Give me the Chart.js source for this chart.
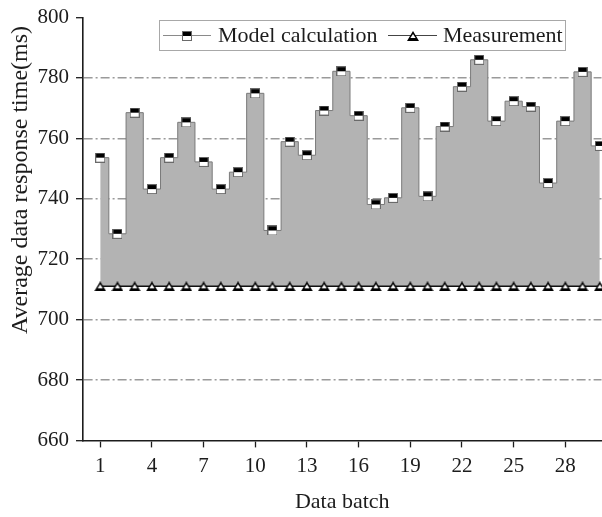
<!DOCTYPE html>
<html><head><meta charset="utf-8">
<script src="https://cdn.jsdelivr.net/npm/chart.js@4/dist/chart.umd.min.js"></script>
<style>html,body{margin:0;padding:0;background:#fff;overflow:hidden}#wrap{width:602px;height:517px;position:relative;overflow:hidden}</style>
</head><body><div id="wrap"><canvas id="c" width="608" height="517"></canvas></div>
<script>
const batches = [1,2,3,4,5,6,7,8,9,10,11,12,13,14,15,16,17,18,19,20,21,22,23,24,25,26,27,28,29,30];
const modelCalc = [753.6,728.4,768.5,743.2,753.6,765.3,752.2,743.2,748.8,774.9,729.5,758.9,754.4,769.2,782.2,767.5,738.1,740.3,770.1,740.8,763.9,777.1,786.0,765.7,772.3,770.5,745.2,765.7,782.0,757.5];
const measurement = [711,711,711,711,711,711,711,711,711,711,711,711,711,711,711,711,711,711,711,711,711,711,711,711,711,711,711,711,711,711];
const xTicks = [1,4,7,10,13,16,19,22,25,28];
const yTicks = [660,680,700,720,740,760,780,800];
const seriesNames = ['Model calculation','Measurement'];
const xTitle = 'Data batch';
const yTitle = 'Average data response time(ms)';

const FONT = '"Liberation Serif", "Times New Roman", serif';
const INK = '#1c1c1c';

function makeSquare(){
  const c=document.createElement('canvas'); c.width=10; c.height=10;
  const g=c.getContext('2d');
  g.fillStyle='#6a6a6a'; g.fillRect(0,0,10,10);
  g.fillStyle='#000'; g.fillRect(1,1,8,4);
  g.fillStyle='#fff'; g.fillRect(1,5,8,4);
  return c;
}
function makeTri(){
  const c=document.createElement('canvas'); c.width=12; c.height=10;
  const g=c.getContext('2d');
  g.fillStyle='#000';
  g.beginPath(); g.moveTo(6,0); g.lineTo(12,10); g.lineTo(0,10); g.closePath(); g.fill();
  g.fillStyle='#fff';
  g.beginPath(); g.moveTo(6,3); g.lineTo(8.6,7); g.lineTo(3.4,7); g.closePath(); g.fill();
  return c;
}
const sqImg = makeSquare();
const triImg = makeTri();

const overlay = {
  id:'overlay',
  afterDraw(chart){
    const ctx = chart.ctx;
    ctx.save();
    ctx.fillStyle = INK;
    ctx.font = '24px ' + FONT;
    ctx.textAlign = 'center'; ctx.textBaseline = 'middle';
    ctx.translate(21, 180); ctx.rotate(-Math.PI/2);
    ctx.fillText(yTitle, 0, 0);
    ctx.restore();
    ctx.save();
    ctx.fillStyle = '#fff';
    ctx.fillRect(159.5, 20.5, 406, 30);
    ctx.strokeStyle = '#a8a8a8'; ctx.lineWidth = 1;
    ctx.strokeRect(159.5, 20.5, 406, 30);
    const items = [
      {x0:163, x1:211, img:sqImg, tx:218, col:'#8a8a8a'},
      {x0:388, x1:437, img:triImg, tx:443, col:'#444'}
    ];
    items.forEach((it,i)=>{
      ctx.strokeStyle = it.col; ctx.lineWidth = 1;
      ctx.beginPath(); ctx.moveTo(it.x0, 35.5); ctx.lineTo(it.x1, 35.5); ctx.stroke();
      const cx = (it.x0+it.x1)/2;
      ctx.drawImage(it.img, Math.round(cx - it.img.width/2), Math.round(35.5 - it.img.height/2));
      ctx.fillStyle = INK;
      ctx.font = '22px ' + FONT;
      ctx.textAlign = 'left'; ctx.textBaseline = 'middle';
      ctx.fillText(seriesNames[i], it.tx, 36);
    });
    ctx.restore();
  }
};

new Chart(document.getElementById('c'), {
  type:'line',
  data:{
    datasets:[
      {
        label: seriesNames[0],
        data: batches.map((b,i)=>({x:b, y:modelCalc[i]})),
        stepped:'middle',
        borderColor:'#7a7a7a', borderWidth:1,
        backgroundColor:'#b3b3b3',
        fill:1,
        pointStyle: sqImg, pointRadius:5,
        order:1, clip:false
      },
      {
        label: seriesNames[1],
        data: batches.map((b,i)=>({x:b, y:measurement[i]})),
        borderColor:'#111', borderWidth:1.5,
        fill:false,
        pointStyle: triImg, pointRadius:5,
        order:0, clip:false
      }
    ]
  },
  options:{
    responsive:false, animation:false, events:[],
    layout:{padding:{top:16, right:0, bottom:2, left:0}},
    plugins:{legend:{display:false}, tooltip:{enabled:false}},
    scales:{
      x:{
        type:'linear', min:0, max:30.1,
        afterBuildTicks:(s)=>{ s.ticks = xTicks.map(v=>({value:v})); },
        ticks:{autoSkip:false, maxRotation:0, color:INK, font:{family:FONT, size:21}, padding:6},
        grid:{drawOnChartArea:false, tickLength:7, tickColor:INK, tickWidth:1.3},
        border:{color:INK, width:1.6},
        title:{display:true, text:xTitle, color:INK, font:{family:FONT, size:22}, padding:{top:4, bottom:0}}
      },
      y:{
        type:'linear', min:660, max:800,
        afterBuildTicks:(s)=>{ s.ticks = yTicks.map(v=>({value:v})); },
        afterFit:(s)=>{ s.width = 83; },
        ticks:{color:INK, font:{family:FONT, size:21, lineHeight:1}, padding:7},
        grid:{
          color:(c)=> (c.tick && (c.tick.value===660 || c.tick.value===800)) ? 'rgba(0,0,0,0)' : '#9a9a9a',
          lineWidth:1.4, tickLength:7, tickColor:INK, tickWidth:1.3, tickBorderDash:[]
        },
        border:{color:INK, width:1.6, dash:[9,3,2,3]}
      }
    }
  },
  plugins:[overlay]
});
</script>
</body></html>
